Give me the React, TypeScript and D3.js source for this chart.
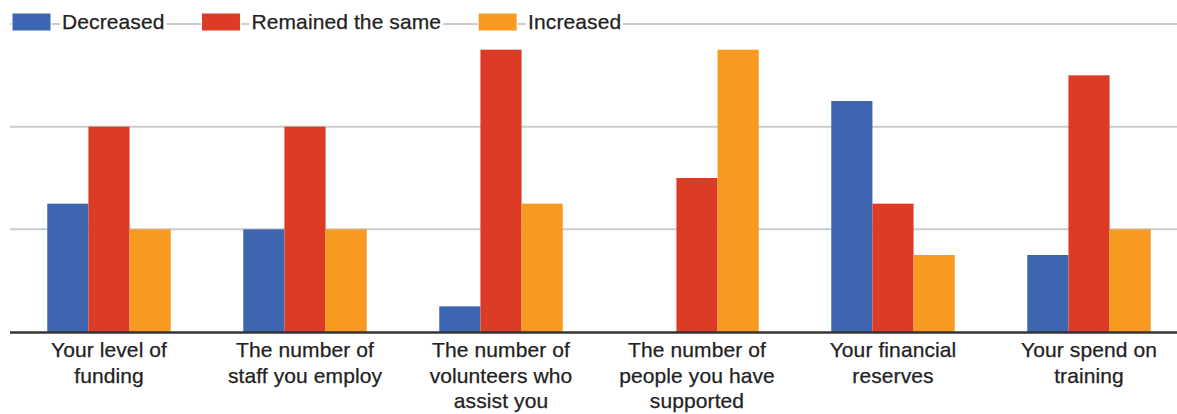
import { useEffect, useRef } from "react";
import * as d3 from "d3";

const width = 1177;
const height = 414;

const margin = { top: 24, right: -10, bottom: 82, left: 11 };

const categories = [
  ["Your level of", "funding"],
  ["The number of", "staff you employ"],
  ["The number of", "volunteers who", "assist you"],
  ["The number of", "people you have", "supported"],
  ["Your financial", "reserves"],
  ["Your spend on", "training"],
];

const seriesNames = ["Decreased", "Remained the same", "Increased"];
const seriesColors = ["#3e66b0", "#dc3b26", "#f89a1f"];

const decreased = [5, 4, 1, 0, 9, 3];
const remained = [8, 8, 11, 6, 5, 10];
const increased = [4, 4, 5, 11, 3, 4];

const gridTicks = [0, 4, 8, 12];

type Bar = { cat: number; s: number; value: number };

const fontFamily = "'Liberation Sans', Arial, sans-serif";

export default function App() {
  const svgRef = useRef<SVGSVGElement | null>(null);

  useEffect(() => {
    if (!svgRef.current) return;
    const svg = d3.select(svgRef.current);
    svg.selectAll("*").remove();

    const values = [decreased, remained, increased];
    const keys = categories.map((_, i) => String(i));

    const x0 = d3
      .scaleBand()
      .domain(keys)
      .range([margin.left, width - margin.right])
      .paddingInner(0.37)
      .paddingOuter(0.185);

    const x1 = d3
      .scaleBand<number>()
      .domain([0, 1, 2])
      .range([0, x0.bandwidth()])
      .padding(0);

    const y = d3
      .scaleLinear()
      .domain([0, 12])
      .range([height - margin.bottom, margin.top]);

    // grid lines
    svg
      .append("g")
      .selectAll("line")
      .data(gridTicks.slice(1))
      .join("line")
      .attr("x1", 10)
      .attr("x2", width)
      .attr("y1", (d) => y(d))
      .attr("y2", (d) => y(d))
      .attr("stroke", "#cccccc")
      .attr("stroke-width", 2);

    // bars
    const bars: Bar[] = [];
    categories.forEach((_, c) =>
      values.forEach((vals, s) => bars.push({ cat: c, s, value: vals[c] })),
    );

    svg
      .append("g")
      .selectAll("rect")
      .data(bars.filter((d) => d.value > 0))
      .join("rect")
      .attr("x", (d) => (x0(String(d.cat)) ?? 0) + (x1(d.s) ?? 0))
      .attr("y", (d) => y(d.value))
      .attr("width", x1.bandwidth())
      .attr("height", (d) => y(0) - y(d.value))
      .attr("fill", (d) => seriesColors[d.s]);

    // baseline
    svg
      .append("line")
      .attr("x1", 10)
      .attr("x2", width)
      .attr("y1", y(0) + 0.5)
      .attr("y2", y(0) + 0.5)
      .attr("stroke", "#333333")
      .attr("stroke-width", 2.5);

    // category labels
    const labels = svg
      .append("g")
      .selectAll("text")
      .data(categories)
      .join("text")
      .attr("text-anchor", "middle")
      .attr("fill", "#222222")
      .attr("stroke", "#222222")
      .attr("stroke-width", 0.25)
      .style("font-family", fontFamily)
      .style("font-size", "21px")
      .style("letter-spacing", "0.1px")
      .attr(
        "transform",
        (_, i) => `translate(${(x0(String(i)) ?? 0) + x0.bandwidth() / 2},${y(0) + 25})`,
      );

    labels
      .selectAll("tspan")
      .data((d) => d)
      .join("tspan")
      .attr("x", 0)
      .attr("y", (_, i) => i * 25.5)
      .text((d) => d);

    // legend
    const legend = svg.append("g");
    let lx = 12;
    seriesNames.forEach((name, i) => {
      const item = legend.append("g").attr("transform", `translate(${lx},0)`);
      item
        .append("rect")
        .attr("x", 0)
        .attr("y", 13)
        .attr("width", 39)
        .attr("height", 18)
        .attr("fill", seriesColors[i])
        .attr("stroke", "#ffffff")
        .attr("stroke-width", 1);
      const bg = item.append("rect").attr("fill", "#ffffff");
      const txt = item
        .append("text")
        .attr("x", 50)
        .attr("y", 29)
        .attr("fill", "#222222")
        .attr("stroke", "#222222")
        .attr("stroke-width", 0.25)
        .style("font-family", fontFamily)
        .style("font-size", "21px")
        .style("letter-spacing", "0.1px")
        .text(name);
      const w = (txt.node() as SVGTextElement).getComputedTextLength();
      bg.attr("x", 48).attr("y", 12).attr("width", w + 4).attr("height", 22);
      lx += 50 + w + 37;
    });
  }, []);

  return (
    <svg
      ref={svgRef}
      width={width}
      height={height}
      viewBox={`0 0 ${width} ${height}`}
      style={{ position: "absolute", left: 0, top: 0, background: "#ffffff" }}
    />
  );
}
